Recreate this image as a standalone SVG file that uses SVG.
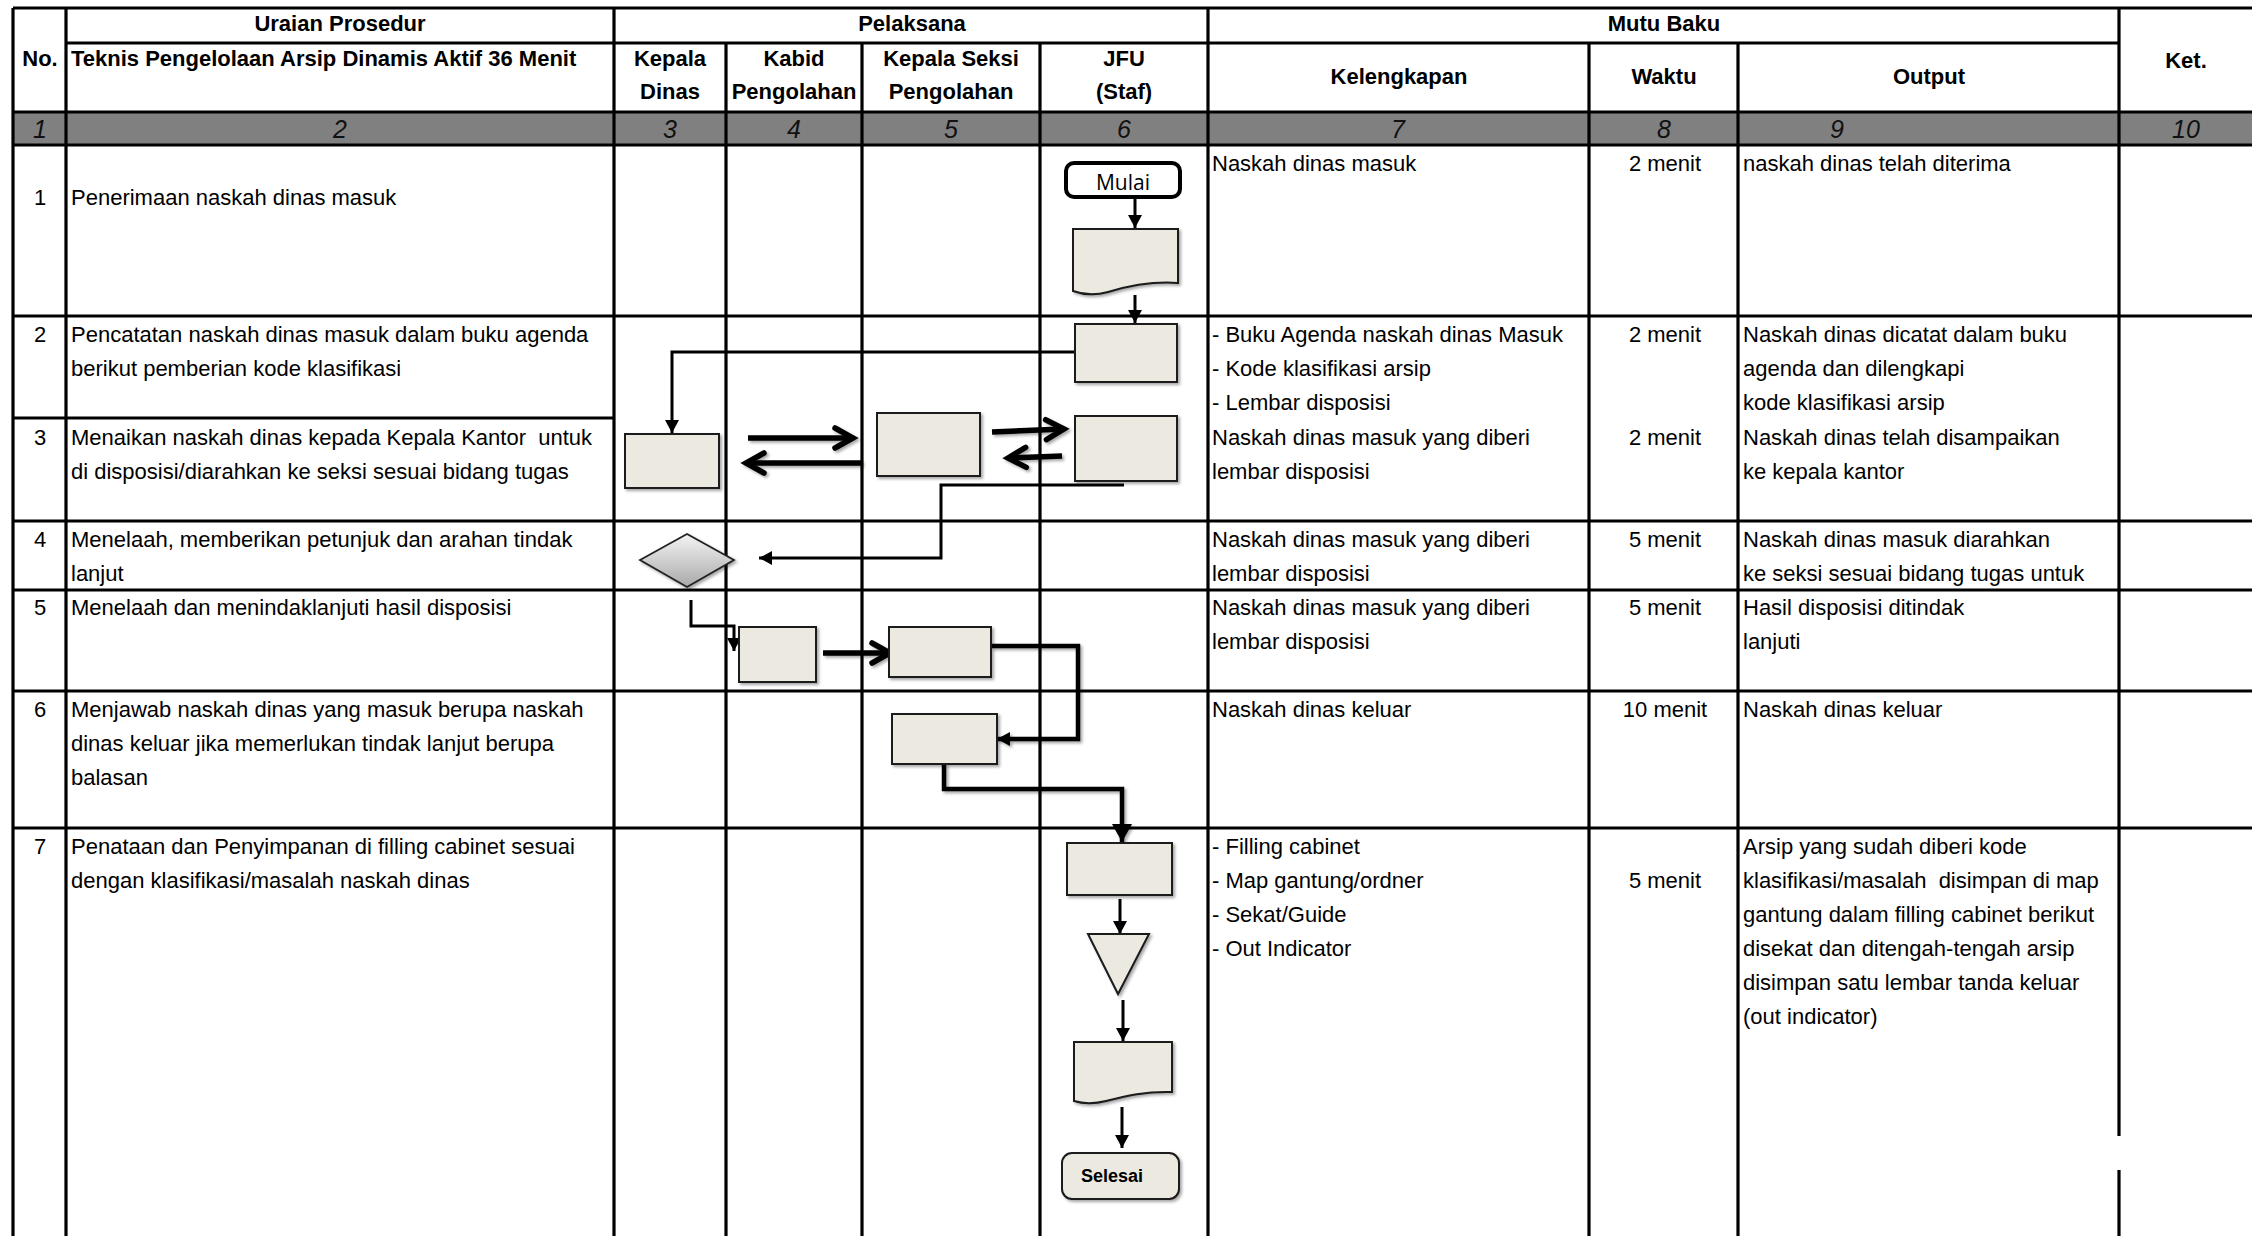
<svg xmlns="http://www.w3.org/2000/svg" width="2252" height="1236" viewBox="0 0 2252 1236">
<style>
.g{stroke:#000;stroke-width:3.2;fill:none}
.t{font-family:"Liberation Sans",Arial,sans-serif;font-size:22px;fill:#000}
.h{font-family:"Liberation Sans",Arial,sans-serif;font-size:22px;font-weight:bold;fill:#000;text-anchor:middle}
.n{font-family:"Liberation Sans",Arial,sans-serif;font-size:25px;font-style:italic;fill:#111;text-anchor:middle}
.m{text-anchor:middle}
.box{fill:#ECEAE0;stroke:#1a1a1a;stroke-width:2;filter:url(#sh)}
.c{fill:none;stroke:#000;stroke-width:3}
.c4{fill:none;stroke:#000;stroke-width:4.5;filter:url(#sh)}
.o{fill:none;stroke:#000;stroke-width:5.5;marker-end:url(#ao);filter:url(#sh)}
</style>
<defs>
<filter id="sh" filterUnits="userSpaceOnUse" x="0" y="0" width="2252" height="1236">
<feDropShadow dx="2" dy="2" stdDeviation="1.5" flood-color="#000" flood-opacity="0.35"/>
</filter>
<linearGradient id="dg" x1="0" y1="0" x2="0" y2="1">
<stop offset="0" stop-color="#f4f4f4"/>
<stop offset="1" stop-color="#a9a9a9"/>
</linearGradient>
<marker id="af" markerUnits="userSpaceOnUse" markerWidth="16" markerHeight="14" refX="13" refY="7" orient="auto" overflow="visible">
<path d="M0,0 L13,7 L0,14 Z" fill="#000"/>
</marker>
<marker id="afl" markerUnits="userSpaceOnUse" markerWidth="22" markerHeight="22" refX="18" refY="10" orient="auto" overflow="visible">
<path d="M0,0 L18,10 L0,20 Z" fill="#000"/>
</marker>
<marker id="ao" markerUnits="userSpaceOnUse" markerWidth="24" markerHeight="24" refX="18" refY="11" orient="auto" overflow="visible">
<path d="M1,1 L19,11 L1,21" fill="none" stroke="#000" stroke-width="5.5" stroke-linecap="round" stroke-linejoin="miter"/>
</marker>
</defs>
<rect width="2252" height="1236" fill="#fff"/>

<g id="table">
<rect x="13" y="112" width="2239" height="33" fill="#808080"/>
<path class="g" d="M13,8 H2252 M66,43 H2119 M13,112 H2252 M13,145 H2252 M13,316 H2252 M13,418 H614 M13,521 H2252 M13,590 H2252 M13,691 H2252 M13,828 H2252"/>
<path class="g" d="M13,8 V1236 M66,8 V1236 M614,8 V1236 M726,43 V1236 M862,43 V1236 M1040,43 V1236 M1208,8 V1236 M1589,43 V1236 M1738,43 V1236 M2119,8 V1136 M2119,1170 V1236"/>
</g>

<g id="header">
<text class="h" x="340" y="31">Uraian Prosedur</text>
<text class="h" x="912" y="31">Pelaksana</text>
<text class="h" x="1664" y="31">Mutu Baku</text>
<text class="h" x="40" y="66">No.</text>
<text class="h" x="71" y="66" style="text-anchor:start">Teknis Pengelolaan Arsip Dinamis Aktif 36 Menit</text>
<text class="h" x="670" y="66">Kepala</text>
<text class="h" x="670" y="99">Dinas</text>
<text class="h" x="794" y="66">Kabid</text>
<text class="h" x="794" y="99">Pengolahan</text>
<text class="h" x="951" y="66">Kepala Seksi</text>
<text class="h" x="951" y="99">Pengolahan</text>
<text class="h" x="1124" y="66">JFU</text>
<text class="h" x="1124" y="99">(Staf)</text>
<text class="h" x="1399" y="84">Kelengkapan</text>
<text class="h" x="1664" y="84">Waktu</text>
<text class="h" x="1929" y="84">Output</text>
<text class="h" x="2186" y="68">Ket.</text>
<text class="n" x="40" y="138">1</text>
<text class="n" x="340" y="138">2</text>
<text class="n" x="670" y="138">3</text>
<text class="n" x="794" y="138">4</text>
<text class="n" x="951" y="138">5</text>
<text class="n" x="1124" y="138">6</text>
<text class="n" x="1398" y="138">7</text>
<text class="n" x="1664" y="138">8</text>
<text class="n" x="1837" y="138">9</text>
<text class="n" x="2186" y="138">10</text>
</g>

<g id="rows-text">
<text class="t m" x="40" y="205">1</text>
<text class="t" x="71" y="205">Penerimaan naskah dinas masuk</text>
<text class="t m" x="40" y="342">2</text>
<text class="t" x="71" y="342">Pencatatan naskah dinas masuk dalam buku agenda</text>
<text class="t" x="71" y="376">berikut pemberian kode klasifikasi</text>
<text class="t m" x="40" y="445">3</text>
<text class="t" x="71" y="445" xml:space="preserve">Menaikan naskah dinas kepada Kepala Kantor  untuk</text>
<text class="t" x="71" y="479">di disposisi/diarahkan ke seksi sesuai bidang tugas</text>
<text class="t m" x="40" y="547">4</text>
<text class="t" x="71" y="547">Menelaah, memberikan petunjuk dan arahan tindak</text>
<text class="t" x="71" y="581">lanjut</text>
<text class="t m" x="40" y="615">5</text>
<text class="t" x="71" y="615">Menelaah dan menindaklanjuti hasil disposisi</text>
<text class="t m" x="40" y="717">6</text>
<text class="t" x="71" y="717">Menjawab naskah dinas yang masuk berupa naskah</text>
<text class="t" x="71" y="751">dinas keluar jika memerlukan tindak lanjut berupa</text>
<text class="t" x="71" y="785">balasan</text>
<text class="t m" x="40" y="854">7</text>
<text class="t" x="71" y="854">Penataan dan Penyimpanan di filling cabinet sesuai</text>
<text class="t" x="71" y="888">dengan klasifikasi/masalah naskah dinas</text>

<text class="t" x="1212" y="171">Naskah dinas masuk</text>
<text class="t" x="1212" y="342">- Buku Agenda naskah dinas Masuk</text>
<text class="t" x="1212" y="376">- Kode klasifikasi arsip</text>
<text class="t" x="1212" y="410">- Lembar disposisi</text>
<text class="t" x="1212" y="445">Naskah dinas masuk yang diberi</text>
<text class="t" x="1212" y="479">lembar disposisi</text>
<text class="t" x="1212" y="547">Naskah dinas masuk yang diberi</text>
<text class="t" x="1212" y="581">lembar disposisi</text>
<text class="t" x="1212" y="615">Naskah dinas masuk yang diberi</text>
<text class="t" x="1212" y="649">lembar disposisi</text>
<text class="t" x="1212" y="717">Naskah dinas keluar</text>
<text class="t" x="1212" y="854">- Filling cabinet</text>
<text class="t" x="1212" y="888">- Map gantung/ordner</text>
<text class="t" x="1212" y="922">- Sekat/Guide</text>
<text class="t" x="1212" y="956">- Out Indicator</text>

<text class="t m" x="1665" y="171">2 menit</text>
<text class="t m" x="1665" y="342">2 menit</text>
<text class="t m" x="1665" y="445">2 menit</text>
<text class="t m" x="1665" y="547">5 menit</text>
<text class="t m" x="1665" y="615">5 menit</text>
<text class="t m" x="1665" y="717">10 menit</text>
<text class="t m" x="1665" y="888">5 menit</text>

<text class="t" x="1743" y="171">naskah dinas telah diterima</text>
<text class="t" x="1743" y="342">Naskah dinas dicatat dalam buku</text>
<text class="t" x="1743" y="376">agenda dan dilengkapi</text>
<text class="t" x="1743" y="410">kode klasifikasi arsip</text>
<text class="t" x="1743" y="445">Naskah dinas telah disampaikan</text>
<text class="t" x="1743" y="479">ke kepala kantor</text>
<text class="t" x="1743" y="547">Naskah dinas masuk diarahkan</text>
<text class="t" x="1743" y="581">ke seksi sesuai bidang tugas untuk</text>
<text class="t" x="1743" y="615">Hasil disposisi ditindak</text>
<text class="t" x="1743" y="649">lanjuti</text>
<text class="t" x="1743" y="717">Naskah dinas keluar</text>
<text class="t" x="1743" y="854">Arsip yang sudah diberi kode</text>
<text class="t" x="1743" y="888" xml:space="preserve">klasifikasi/masalah  disimpan di map</text>
<text class="t" x="1743" y="922">gantung dalam filling cabinet berikut</text>
<text class="t" x="1743" y="956">disekat dan ditengah-tengah arsip</text>
<text class="t" x="1743" y="990">disimpan satu lembar tanda keluar</text>
<text class="t" x="1743" y="1024">(out indicator)</text>
</g>

<g id="connectors">
<path class="c" d="M1135,197 V228" marker-end="url(#af)"/>
<path class="c" d="M1135,295 V323" marker-end="url(#af)"/>
<path class="c" d="M1075,352 H672 V433" marker-end="url(#af)"/>
<path class="o" d="M748,438 H852"/>
<path class="o" d="M862,463 H747"/>
<path class="o" d="M992,432 L1063,429"/>
<path class="o" d="M1062,456 L1009,458"/>
<path class="c" d="M1124,485 H941 V558 H759" marker-end="url(#af)"/>
<path class="c" d="M691,600 V626 H734 V651" marker-end="url(#af)"/>
<path class="o" d="M823,653 H889"/>
<path class="c4" d="M991,646 H1078 V739 H997" marker-end="url(#af)"/>
<path class="c4" d="M944,764 V789 H1122 V842" marker-end="url(#afl)"/>
<path class="c" d="M1120,899 V934" marker-end="url(#af)"/>
<path class="c" d="M1123,1000 V1041" marker-end="url(#af)"/>
<path class="c" d="M1122,1107 V1148" marker-end="url(#af)"/>
</g>

<g id="mulai">
<rect x="1066" y="163" width="114" height="34" rx="8" fill="#fff" stroke="#000" stroke-width="4"/>
<text x="1123" y="190" font-family="'Open Sans','Noto Sans',sans-serif" font-size="21" text-anchor="middle">Mulai</text>
</g>
<g id="doc-penerimaan">
<path class="box" d="M1073,229 H1178 V283 C1150,281 1128,286 1108,292 C1094,296 1084,295 1073,291 Z"/>
</g>
<g id="jfu-pencatatan">
<rect class="box" x="1075" y="324" width="102" height="58"/>
</g>
<g id="kd-disposisi">
<rect class="box" x="625" y="434" width="94" height="54"/>
</g>
<g id="ks-naik">
<rect class="box" x="877" y="413" width="103" height="63"/>
</g>
<g id="jfu-naik">
<rect class="box" x="1075" y="416" width="102" height="65"/>
</g>
<g id="kd-telaah">
<path d="M640,560 L687,534 L734,560 L687,587 Z" fill="url(#dg)" stroke="#222" stroke-width="1.8" filter="url(#sh)"/>
</g>
<g id="kabid-tindak">
<rect class="box" x="739" y="627" width="77" height="55"/>
</g>
<g id="ks-tindak">
<rect class="box" x="889" y="627" width="102" height="50"/>
</g>
<g id="ks-jawab">
<rect class="box" x="892" y="714" width="105" height="50"/>
</g>
<g id="jfu-tata">
<rect class="box" x="1067" y="843" width="105" height="52"/>
</g>
<g id="jfu-simpan">
<path class="box" d="M1088,934 L1149,934 L1118,994 Z"/>
</g>
<g id="doc-arsip">
<path class="box" d="M1074,1042 H1172 V1092 C1146,1091 1126,1096 1106,1101 C1094,1104 1084,1104 1074,1101 Z"/>
</g>
<g id="selesai">
<rect class="box" x="1062" y="1153" width="117" height="46" rx="10"/>
<text x="1112" y="1182" font-family="'Liberation Sans',Arial,sans-serif" font-size="18" font-weight="bold" text-anchor="middle">Selesai</text>
</g>
</svg>
